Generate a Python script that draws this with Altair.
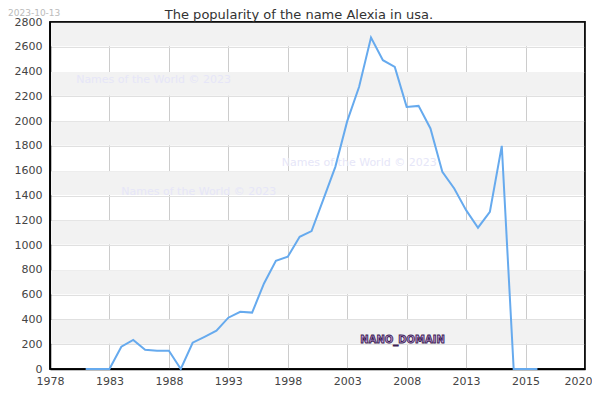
import altair as alt
import pandas as pd

years = list(range(1981, 2020))
counts = [0, 0, 0, 180, 234, 156, 148, 148, 0, 212, 260, 309, 414, 462, 455,
          690, 873, 906, 1067, 1113, 1370, 1631, 2000, 2277, 2675, 2492, 2438,
          2115, 2123, 1941, 1591, 1457, 1282, 1140, 1269, 1801, 0, 0, 0]

tick_positions = [1978, 1983, 1988, 1993, 1998, 2003, 2008, 2013, 2018, 2023]
tick_labels = ["1978", "1983", "1988", "1993", "1998", "2003", "2008", "2013", "2015", "2020"]
y_ticks = [0, 200, 400, 600, 800, 1000, 1200, 1400, 1600, 1800, 2000, 2200, 2400, 2600, 2800]
band_lo = [200, 600, 1000, 1400, 1800, 2200, 2600]
band_hi = [400, 800, 1200, 1600, 2000, 2400, 2800]

wm_text = ["Names of the World © 2023"] * 3
wm_year = [1980.2, 1997.5, 1984.0]
wm_value = [2330, 1660, 1430]

title_text = "The popularity of the name Alexia in usa."
date_text = "2023-10-13"

df = pd.DataFrame({"year": years, "count": counts})
bands = pd.DataFrame({"lo": band_lo, "hi": band_hi})
wm = pd.DataFrame({"t": wm_text, "year": wm_year, "value": wm_value})
nano = pd.DataFrame({"t": ["NANO_DOMAIN"], "year": [2004.1], "value": [230]})
date = pd.DataFrame({"t": [date_text]})
title = pd.DataFrame({"t": [title_text]})
frame = pd.DataFrame({"k": [0]})

label_expr = "[" + ",".join(f"'{l}'" for l in tick_labels) + "][indexof([" + \
    ",".join(str(p) for p in tick_positions) + "], datum.value)]"

xscale = alt.Scale(domain=[1978, 2023], nice=False, zero=False)
yscale = alt.Scale(domain=[0, 2800], nice=False)

xaxis = alt.Axis(values=tick_positions, labelExpr=label_expr, format="d", title=None,
                 grid=True, gridColor="#cccccc", ticks=False, domainColor="black",
                 domainWidth=1.5, labelColor="#444444", labelFontSize=11,
                 labelFont="DejaVu Sans", labelPadding=6, labelFlush=False,
                 labelOverlap=False,
                 labelOffset=alt.ExprRef("datum.value == 2023 ? -7 : 0"))
yaxis = alt.Axis(values=y_ticks, tickCount=15, format="d", title=None, grid=True,
                 gridColor="#e0e0e0", ticks=False, domainColor="black", domainWidth=1.5,
                 labelColor="#444444", labelFontSize=11, labelFont="DejaVu Sans",
                 labelPadding=8, labelOverlap=False, labelFlush=False)

line = alt.Chart(df).mark_line(color="#66aaee", strokeWidth=2).encode(
    x=alt.X("year:Q", scale=xscale, axis=xaxis),
    y=alt.Y("count:Q", scale=yscale, axis=yaxis))

band_layer = alt.Chart(bands).mark_rect(color="#f2f2f2", y2Offset=0.5, yOffset=-0.5).encode(
    x=alt.value(1), x2=alt.value(534),
    y=alt.Y("lo:Q", scale=yscale), y2="hi:Q")

wm_layer = alt.Chart(wm).mark_text(align="left", baseline="middle", fontSize=11,
                                   font="DejaVu Sans", color="#e6e6f8").encode(
    x=alt.X("year:Q", scale=xscale),
    y=alt.Y("value:Q", scale=yscale), text="t:N")

nano_layer = alt.Chart(nano).mark_text(align="left", baseline="middle", fontSize=10,
                                       font="DejaVu Sans", color="#c6a2e0",
                                       stroke="#3e1f55", strokeWidth=0.9,
                                       fontWeight="bold").encode(
    x=alt.X("year:Q", scale=xscale),
    y=alt.Y("value:Q", scale=yscale), text="t:N")

frame_layer = alt.Chart(frame).mark_rect(fillOpacity=0, stroke="black", strokeWidth=1.5).encode(
    x=alt.value(0), x2=alt.value(535), y=alt.value(0), y2=alt.value(347))

date_layer = alt.Chart(date).mark_text(align="left", baseline="middle", fontSize=9,
                                       font="DejaVu Sans", color="#bbbbbb").encode(
    x=alt.value(-42), y=alt.value(-9), text="t:N")

title_layer = alt.Chart(title).mark_text(align="center", baseline="middle", fontSize=13,
                                         font="DejaVu Sans", color="#333333").encode(
    x=alt.value(249), y=alt.value(-7), text="t:N")

chart = alt.layer(band_layer, frame_layer, line, wm_layer, nano_layer, date_layer,
                  title_layer).properties(
    width=535, height=347,
    autosize=alt.AutoSizeParams(type="none"),
    padding={"left": 42, "top": 14, "right": 7, "bottom": 22},
).configure_view(stroke="black", strokeWidth=1.5)

chart.save("out.html", embed_options={"renderer": "svg", "actions": False})
